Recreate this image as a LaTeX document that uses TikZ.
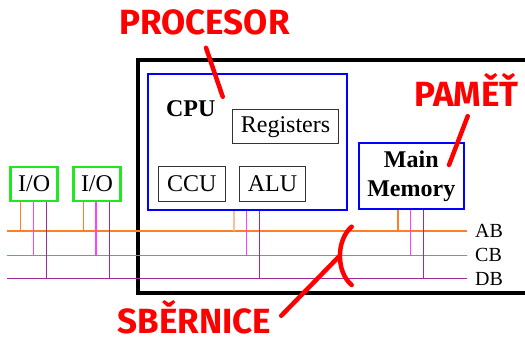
\documentclass[tikz,border=0pt]{standalone}
\usepackage{fontspec}
\setmainfont{Liberation Serif}
\newfontfamily\tagfont{Fira Sans}
\usetikzlibrary{positioning, calc}
\definecolor{abc}{HTML}{FF7F27}
\definecolor{cbc}{HTML}{FF40FF}
\definecolor{dbc}{HTML}{9B2D9B}
\definecolor{cpublue}{HTML}{0000FF}
\definecolor{iogreen}{HTML}{22E622}
\definecolor{tagred}{HTML}{FF0000}
\definecolor{boxgray}{HTML}{333333}
\tikzset{
  unit/.style={draw=boxgray, line width=1pt, inner sep=0pt, font=\fontsize{24}{28}\selectfont},
  iobox/.style={draw=iogreen, line width=2.5pt, inner sep=0pt, minimum width=47pt, minimum height=34pt, font=\fontsize{24}{28}\selectfont},
  bluebox/.style={draw=cpublue, line width=2.5pt, inner sep=0pt},
  buslbl/.style={anchor=west, inner sep=0pt, font=\fontsize{20}{24}\selectfont},
  tag/.style={tagred, anchor=base, inner sep=0pt, font=\tagfont\bfseries\fontsize{35}{40}\selectfont},
  pointer/.style={draw=tagred, line width=4.5pt, line cap=round}
}
\begin{document}
\begin{tikzpicture}[x=1pt, y=-1pt]
  \useasboundingbox (0,0) rectangle (525,339);
  \clip (0,0) rectangle (525,339);
  \draw[line width=4pt] (137.5,60) rectangle (560,292.7);
  \node[bluebox, minimum width=199pt, minimum height=136pt] (cpu) at (247.3,142.2) {};
  \node[anchor=base, inner sep=0pt, font=\bfseries\fontsize{24}{28}\selectfont] (cputxt) at (190.7,116.7) {CPU};
  \node[unit, minimum width=106.6pt, minimum height=34pt] (reg) at (285.5,126.8) {Registers};
  \node[unit, minimum width=66.7pt, minimum height=34.7pt] (ccu) at (191.8,183.8) {CCU};
  \node[unit, minimum width=66pt, minimum height=34.7pt] (alu) at (272.5,184) {ALU};
  \node[bluebox, minimum width=105pt, minimum height=66pt, align=center, font=\bfseries\fontsize{24}{29}\selectfont] (mem) at (411.3,175.8) {Main\\Memory};
  \node[iobox] (io1) at (34.2,183.9) {I/O};
  \node[iobox] (io2) at (97,183.9) {I/O};
  \foreach \b/\y/\c/\t in {ab/231/abc/AB, cb/255.3/cbc/CB, db/278.7/dbc/DB}{
    \coordinate (\b-l) at (7.3,\y);
    \node[buslbl] (\b) at (475,\y) {\t};
    \draw[\c, line width=1.4pt] (\b-l) -- ([xshift=-8pt]\b.west);
  }
  \foreach \n/\a in {io1/abc, io2/abc, cpu/abc!50, mem/abc}
    \foreach \dx/\b/\c in {-13.5/ab/\a, -1/cb/cbc, 12.2/db/dbc}{
      \coordinate (top) at ([xshift=\dx pt]\n.south);
      \draw[\c, line width=1.4pt] (top) -- (top |- \b-l);
    }
  \node[tag] (procesor) at (204.5,35) {PROCESOR};
  \node[tag] (pamet) at (466.5,106.7) {PAMĚŤ};
  \node[tag] (sbernice) at (194.2,333) {SBĚRNICE};
  \coordinate (cpuTip) at (222.7,96.7);
  \coordinate (memTip) at (449,165);
  \coordinate (brTop) at (351.7,226.7);
  \coordinate (brMid) at (339.5,256);
  \coordinate (brBot) at (351.7,285);
  \draw[pointer] ([xshift=1.5pt, yshift=-12pt]procesor.south) -- (cpuTip);
  \draw[pointer] ([xshift=1.2pt, yshift=-9.3pt]pamet.south) -- (memTip);
  \draw[pointer] ([xshift=10pt, yshift=1pt]sbernice.east) -- (brMid);
  \draw[pointer] (brTop) .. controls (336,240) and (336,272) .. (brBot);
\end{tikzpicture}
\end{document}
